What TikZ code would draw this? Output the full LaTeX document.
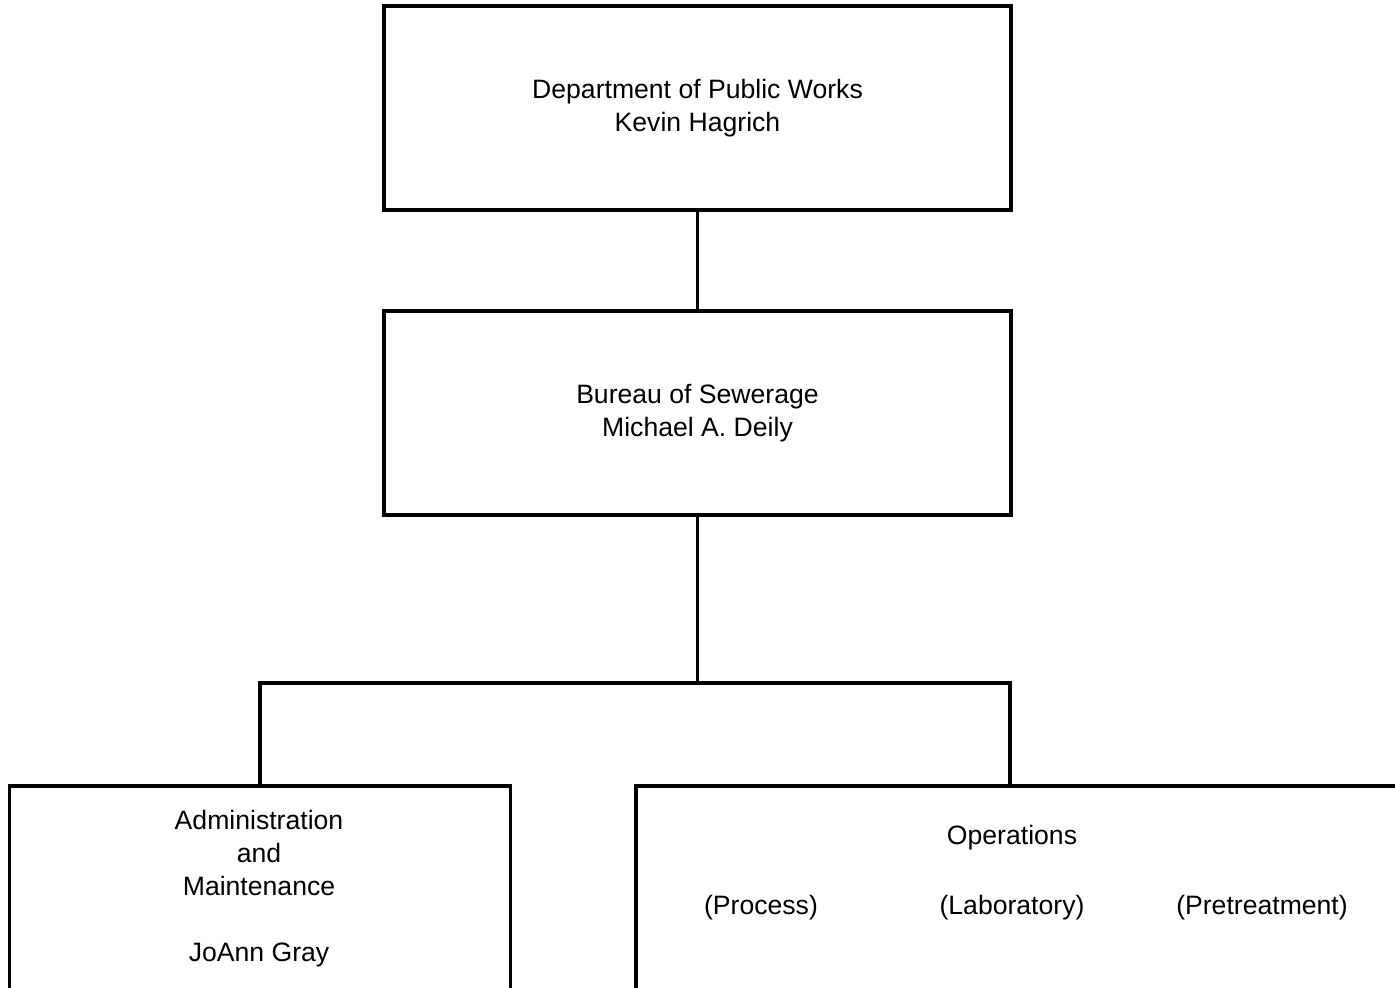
\documentclass[tikz,border=0pt]{standalone}
\usepackage{fontspec}
\setmainfont{Liberation Sans}
\begin{document}
\begin{tikzpicture}[x=0.5pt,y=-0.5pt,
  orgbox/.style={draw=black, line width=1.7pt, rectangle, inner sep=0pt,
    align=center, font=\fontsize{13.3}{16.5}\selectfont},
  label/.style={inner sep=0pt, align=center, font=\fontsize{13.3}{16.5}\selectfont},
  link/.style={draw=black, line width=1.7pt}]
  \clip (0,0) rectangle (1395,988);
  \fill[white] (0,0) rectangle (1395,988);

  % upper management
  \node[orgbox, minimum width=313.5pt, minimum height=102pt] (dpw) at (697.5,108)
    {Department of Public Works\\Kevin Hagrich};
  \node[orgbox, minimum width=313.5pt, minimum height=102pt] (bos) at (697.5,413)
    {Bureau of Sewerage\\Michael A. Deily};

  % divisions (lower edges run off the page)
  \node[orgbox, minimum width=250.5pt, minimum height=102pt] (adm) at (260,888)
    {};
  \node[label] (admT) at (259,889)
    {Administration\\and\\Maintenance\\[16.5pt]JoAnn Gray};
  \node[orgbox, minimum width=402pt, minimum height=102pt] (ops) at (1038,888) {};
  \node[label] (opsT) at (1012,838) {Operations};
  \node[label] (proc) at (761,908) {(Process)};
  \node[label] (lab) at (1012,908) {(Laboratory)};
  \node[label] (pre) at (1262,908) {(Pretreatment)};

  % reporting lines
  \coordinate (bus) at (697.5,683);
  \coordinate (opsTop) at (1010,786);
  \draw[link] (dpw.south) -- (bos.north);
  \draw[link] (bos.south) -- (bus);
  \draw[link] (adm.north) |- (bus) -| (opsTop);
\end{tikzpicture}
\end{document}
